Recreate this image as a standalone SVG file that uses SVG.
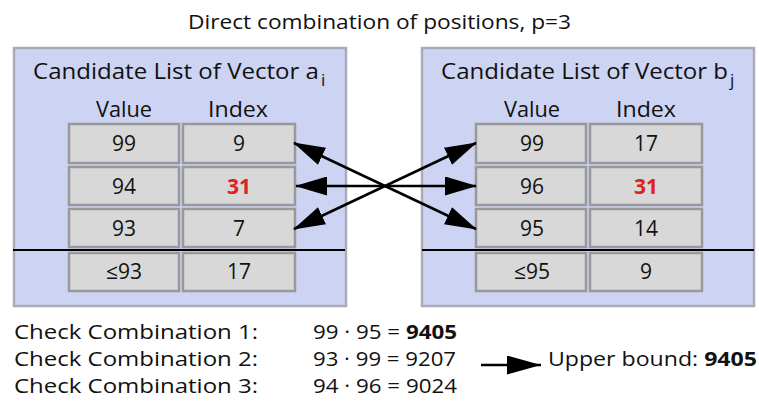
<svg xmlns="http://www.w3.org/2000/svg" width="759" height="406" viewBox="0 0 759 406">
  <style>
    text { font-family: "Open Sans", Lato, "Liberation Sans", sans-serif; fill: #111; }
    .title { font-size: 20px; }
    .panel { fill: #cdd3f3; stroke: #aaaab8; stroke-width: 2.5; }
    .cell { fill: #d8d8d8; stroke: #999; stroke-width: 2.5; }
    .cap { font-size: 22px; }
    .hdr { font-size: 21px; }
    .val { font-size: 21px; text-anchor: middle; }
    .red { fill: #dd2222; font-weight: bold; }
    .sep { stroke: #000; stroke-width: 2; }
    .conn { stroke: #000; stroke-width: 2.5; fill: none; marker-start: url(#ah); marker-end: url(#ah); }
    .bot { font-size: 20px; }
  </style>
  <defs>
    <marker id="ah" viewBox="0 0 32 19" refX="31" refY="9.5" markerWidth="32" markerHeight="19" markerUnits="userSpaceOnUse" orient="auto-start-reverse">
      <path d="M0,0 L32,9.5 L0,19 Z" fill="#000"/>
    </marker>
    <marker id="ah2" viewBox="0 0 34 19" refX="34" refY="9.5" markerWidth="34" markerHeight="19" markerUnits="userSpaceOnUse" orient="auto">
      <path d="M0,0 L34,9.5 L0,19 Z" fill="#000"/>
    </marker>
  </defs>

  <text class="title" x="188" y="29" textLength="383" lengthAdjust="spacingAndGlyphs">Direct combination of positions, p=3</text>

  <!-- left candidate list -->
  <g id="list-a">
    <rect class="panel" x="14" y="48" width="332" height="258"/>
    <text class="cap" x="33" y="79"><tspan textLength="286" lengthAdjust="spacingAndGlyphs">Candidate List of Vector a</tspan><tspan font-size="17" dx="2" dy="7">i</tspan></text>
    <text class="hdr" x="96" y="117" textLength="56" lengthAdjust="spacingAndGlyphs">Value</text>
    <text class="hdr" x="208" y="117" textLength="60" lengthAdjust="spacingAndGlyphs">Index</text>
    <rect class="cell" x="69" y="124" width="110" height="39"/>
    <rect class="cell" x="183" y="124" width="112" height="39"/>
    <rect class="cell" x="69" y="167" width="110" height="38"/>
    <rect class="cell" x="183" y="167" width="112" height="38"/>
    <rect class="cell" x="69" y="209" width="110" height="38"/>
    <rect class="cell" x="183" y="209" width="112" height="38"/>
    <rect class="cell" x="69" y="253" width="110" height="38"/>
    <rect class="cell" x="183" y="253" width="112" height="38"/>
    <text class="val" x="124" y="151">99</text>
    <text class="val" x="239" y="151">9</text>
    <text class="val" x="124" y="194">94</text>
    <text class="val red" x="239" y="194">31</text>
    <text class="val" x="124" y="236">93</text>
    <text class="val" x="239" y="236">7</text>
    <text class="val" x="124" y="279">≤93</text>
    <text class="val" x="239" y="279">17</text>
    <line class="sep" x1="13" y1="250" x2="345" y2="250"/>
  </g>

  <!-- right candidate list -->
  <g id="list-b">
    <rect class="panel" x="422" y="48" width="332" height="258"/>
    <text class="cap" x="441" y="79"><tspan textLength="287" lengthAdjust="spacingAndGlyphs">Candidate List of Vector b</tspan><tspan font-size="17" dx="2" dy="7">j</tspan></text>
    <text class="hdr" x="504" y="117" textLength="56" lengthAdjust="spacingAndGlyphs">Value</text>
    <text class="hdr" x="616" y="117" textLength="60" lengthAdjust="spacingAndGlyphs">Index</text>
    <rect class="cell" x="476" y="124" width="110" height="39"/>
    <rect class="cell" x="590" y="124" width="112" height="39"/>
    <rect class="cell" x="476" y="167" width="110" height="38"/>
    <rect class="cell" x="590" y="167" width="112" height="38"/>
    <rect class="cell" x="476" y="209" width="110" height="38"/>
    <rect class="cell" x="590" y="209" width="112" height="38"/>
    <rect class="cell" x="476" y="253" width="110" height="38"/>
    <rect class="cell" x="590" y="253" width="112" height="38"/>
    <text class="val" x="532" y="151">99</text>
    <text class="val" x="646" y="151">17</text>
    <text class="val" x="532" y="194">96</text>
    <text class="val red" x="646" y="194">31</text>
    <text class="val" x="532" y="236">95</text>
    <text class="val" x="646" y="236">14</text>
    <text class="val" x="532" y="279">≤95</text>
    <text class="val" x="646" y="279">9</text>
    <line class="sep" x1="422" y1="250" x2="754" y2="250"/>
  </g>

  <!-- combination connectors -->
  <g id="connectors">
    <line class="conn" x1="294" y1="143" x2="476" y2="229"/>
    <line class="conn" x1="296" y1="186" x2="476" y2="186"/>
    <line class="conn" x1="294" y1="229" x2="476" y2="143"/>
    <line stroke="#000" stroke-width="2.5" x1="481" y1="365" x2="541" y2="365" marker-end="url(#ah2)"/>
  </g>

  <!-- checked combinations -->
  <g id="checks">
    <text class="bot" x="14" y="339" textLength="244" lengthAdjust="spacingAndGlyphs">Check Combination 1:</text>
    <text class="bot" x="14" y="366" textLength="244" lengthAdjust="spacingAndGlyphs">Check Combination 2:</text>
    <text class="bot" x="14" y="393" textLength="244" lengthAdjust="spacingAndGlyphs">Check Combination 3:</text>
    <text class="bot" x="313" y="339" textLength="144" lengthAdjust="spacingAndGlyphs">99 · 95 = <tspan font-weight="bold">9405</tspan></text>
    <text class="bot" x="313" y="366" textLength="143" lengthAdjust="spacingAndGlyphs">93 · 99 = 9207</text>
    <text class="bot" x="313" y="393" textLength="144" lengthAdjust="spacingAndGlyphs">94 · 96 = 9024</text>
    <text class="bot" x="548" y="366" textLength="209" lengthAdjust="spacingAndGlyphs">Upper bound: <tspan font-weight="bold">9405</tspan></text>
  </g>
</svg>
